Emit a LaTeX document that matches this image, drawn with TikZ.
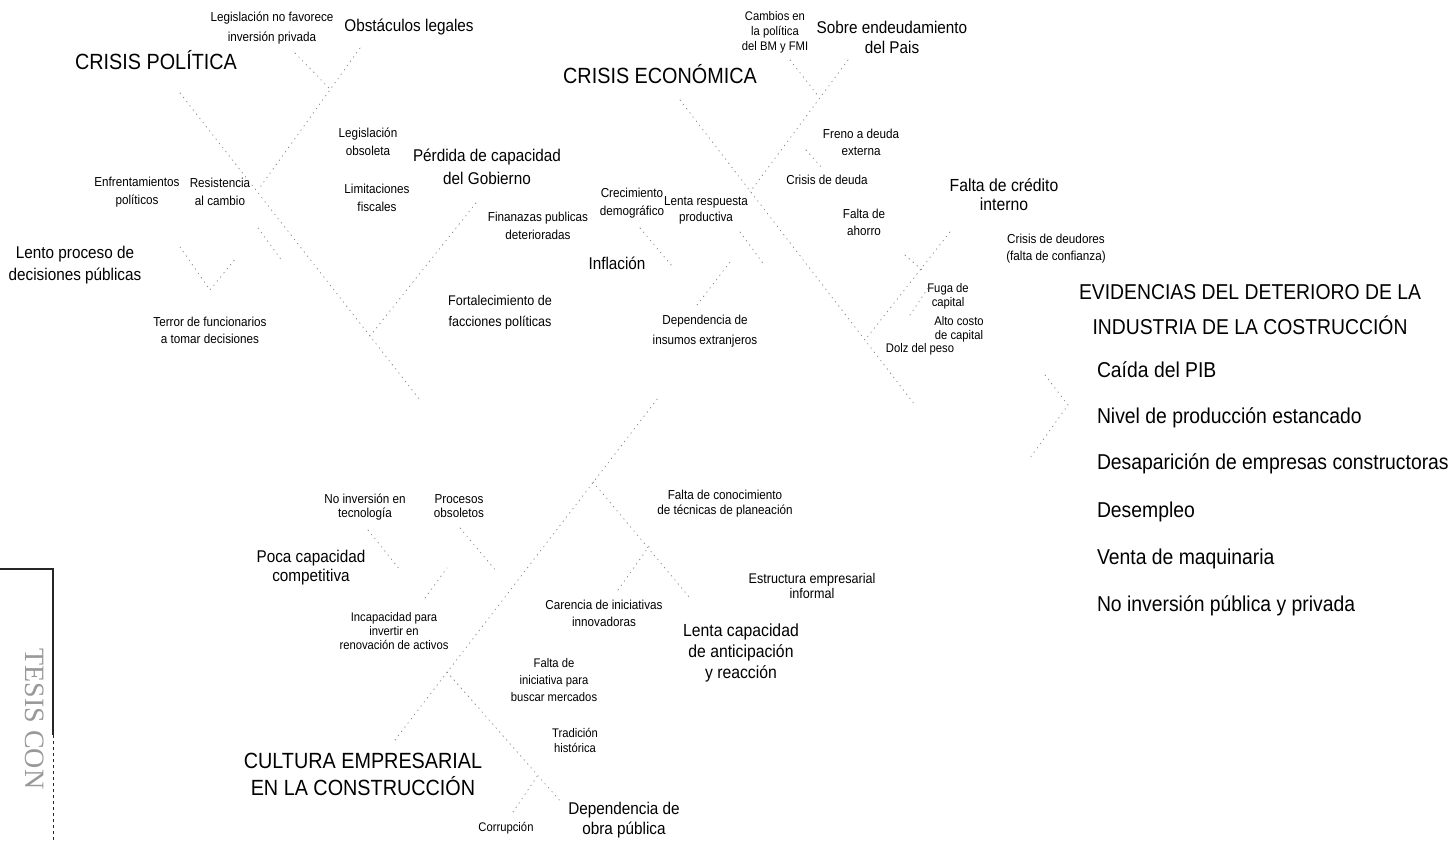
\documentclass[tikz,border=0pt]{standalone}
\usepackage{fontspec}
\setmainfont{Liberation Sans}[FakeStretch=0.9]
\newfontfamily\stampfont{Liberation Serif}
\newcommand{\myfs}[2]{\fontsize{#1}{#2}\selectfont}
\begin{document}
\begin{tikzpicture}[x=1pt,y=-1pt,
  lbl/.style={inner sep=0pt, outer sep=0pt, align=center, text=black},
  bone/.style={draw=black!45, line width=0.8pt, dash pattern=on 0.8pt off 4.5pt, line cap=round},
  stampline/.style={draw=black!85, line width=1.4pt}]
\useasboundingbox[fill=white] (0,0) rectangle (1455,840);

% ---------- labels: Crisis politica ----------
\node[lbl, font=\myfs{13}{20}] (legnf) at (272,28) {Legislación no favorece\\inversión privada};
\node[lbl, font=\myfs{17}{21}] (obst) at (409,27) {Obstáculos legales};
\node[lbl, font=\myfs{22}{27}] (cpol) at (156,60) {CRISIS POLÍTICA};
\node[lbl, font=\myfs{13}{18}] (legob) at (368,142) {Legislación\\obsoleta};
\node[lbl, font=\myfs{17}{23}] (perd) at (487,167) {Pérdida de capacidad\\del Gobierno};
\node[lbl, font=\myfs{13}{18}] (enfr) at (137,192) {Enfrentamientos\\políticos};
\node[lbl, font=\myfs{13}{18}] (resis) at (220,192) {Resistencia\\al cambio};
\node[lbl, font=\myfs{13}{18}] (limit) at (377,198) {Limitaciones\\fiscales};
\node[lbl, font=\myfs{13}{18}] (finan) at (538,226) {Finanazas publicas\\deterioradas};
\node[lbl, font=\myfs{17}{22}] (lento) at (75,265) {Lento proceso de\\decisiones públicas};
\node[lbl, font=\myfs{13}{17}] (terror) at (210,330) {Terror de funcionarios\\a tomar decisiones};
\node[lbl, font=\myfs{14}{21}] (fort) at (500,312) {Fortalecimiento de\\facciones políticas};

% ---------- labels: Crisis economica ----------
\node[lbl, font=\myfs{22}{27}] (ceco) at (660,74) {CRISIS ECONÓMICA};
\node[lbl, font=\myfs{12.5}{15}] (camb) at (775,32) {Cambios en\\la política\\del BM y FMI};
\node[lbl, font=\myfs{17}{20}] (sobre) at (892,37) {Sobre endeudamiento\\del Pais};
\node[lbl, font=\myfs{13}{17}] (freno) at (861,142) {Freno a deuda\\externa};
\node[lbl, font=\myfs{13}{16}] (crdeu) at (827,180) {Crisis de deuda};
\node[lbl, font=\myfs{13}{18}] (crec) at (632,203) {Crecimiento\\demográfico};
\node[lbl, font=\myfs{13}{16}] (lresp) at (706,210) {Lenta respuesta\\productiva};
\node[lbl, font=\myfs{13}{17}] (ahorro) at (864,222) {Falta de\\ahorro};
\node[lbl, font=\myfs{17}{20}] (infl) at (617,263) {Inflación};
\node[lbl, font=\myfs{13}{20}] (depins) at (705,331) {Dependencia de\\insumos extranjeros};
\node[lbl, font=\myfs{17.5}{19}] (credito) at (1004,195) {Falta de crédito\\interno};
\node[lbl, font=\myfs{13}{17}] (deudores) at (1056,249) {Crisis de deudores\\(falta de confianza)};
\node[lbl, font=\myfs{12.5}{14}] (fuga) at (948,296) {Fuga de\\capital};
\node[lbl, font=\myfs{12.5}{14}] (alto) at (959,329) {Alto costo\\de capital};
\node[lbl, font=\myfs{12.5}{14}] (dolz) at (920,349) {Dolz del peso};

% ---------- labels: evidencias ----------
\node[lbl, font=\myfs{21.5}{35}] (evid) at (1250,310) {EVIDENCIAS DEL DETERIORO DE LA\\INDUSTRIA DE LA COSTRUCCIÓN};
\node[lbl, anchor=west, font=\myfs{21.5}{25}] (ev1) at (1097,370) {Caída del PIB};
\node[lbl, anchor=west, font=\myfs{21.5}{25}] (ev2) at (1097,418) {Nivel de producción estancado};
\node[lbl, anchor=west, font=\myfs{21.5}{25}] (ev3) at (1097,464) {Desaparición de empresas constructoras};
\node[lbl, anchor=west, font=\myfs{21.5}{25}] (ev4) at (1097,512) {Desempleo};
\node[lbl, anchor=west, font=\myfs{21.5}{25}] (ev5) at (1097,559) {Venta de maquinaria};
\node[lbl, anchor=west, font=\myfs{21.5}{25}] (ev6) at (1097,606) {No inversión pública y privada};

% ---------- labels: cultura empresarial ----------
\node[lbl, font=\myfs{13}{13.5}] (noinv) at (365,507) {No inversión en\\tecnología};
\node[lbl, font=\myfs{13}{13.5}] (proc) at (459,506) {Procesos\\obsoletos};
\node[lbl, font=\myfs{17}{19}] (poca) at (311,568) {Poca capacidad\\competitiva};
\node[lbl, font=\myfs{13}{15}] (falcon) at (725,504) {Falta de conocimiento\\de técnicas de planeación};
\node[lbl, font=\myfs{14}{15}] (estr) at (812,586) {Estructura empresarial\\informal};
\node[lbl, font=\myfs{12.5}{14}] (incap) at (394,631) {Incapacidad para\\invertir en\\renovación de activos};
\node[lbl, font=\myfs{13}{17}] (caren) at (604,613) {Carencia de iniciativas\\innovadoras};
\node[lbl, font=\myfs{17.5}{21}] (lcap) at (741,653) {Lenta capacidad\\de anticipación\\y reacción};
\node[lbl, font=\myfs{12.5}{17}] (fini) at (554,680) {Falta de\\iniciativa para\\buscar mercados};
\node[lbl, font=\myfs{12.5}{15}] (trad) at (575,740) {Tradición\\histórica};
\node[lbl, font=\myfs{22}{27}] (cult) at (363,774) {CULTURA EMPRESARIAL\\EN LA CONSTRUCCIÓN};
\node[lbl, font=\myfs{12.5}{15}] (corr) at (506,828) {Corrupción};
\node[lbl, font=\myfs{17}{20}] (depob) at (624,820) {Dependencia de\\obra pública};

% ---------- stamp ----------
\node[rotate=-90, inner sep=0pt, text=black!40, font=\stampfont\myfs{28}{28}] (stamp) at (35,719) {TESIS CON};
\coordinate (s1) at (0,569);
\coordinate (s2) at (53,569);
\coordinate (s3) at (53,735);
\coordinate (s4) at (53,840);
\draw[stampline] (s1) -- (s2) -- (s3);
\draw[stampline, dashed, line width=1pt] (s3) -- (s4);

% ---------- bones: politica ----------
\coordinate (pA1) at (180,93);   \coordinate (pA2) at (420,400);
\coordinate (pOb1) at (360,48);  \coordinate (pOb2) at (258,190);
\coordinate (pLn1) at (295,53);  \coordinate (pLn2) at (329,88);
\coordinate (pLe1) at (180,247); \coordinate (pLe2) at (210,290);
\coordinate (pTe2) at (236,258);
\coordinate (pRe1) at (258,228); \coordinate (pRe2) at (283,262);
\coordinate (pPe1) at (476,203); \coordinate (pPe2) at (370,336);
\draw[bone] (pA1) -- (pA2);
\draw[bone] (pOb1) -- (pOb2);
\draw[bone] (pLn1) -- (pLn2);
\draw[bone] (pLe1) -- (pLe2) -- (pTe2);
\draw[bone] (pRe1) -- (pRe2);
\draw[bone] (pPe1) -- (pPe2);

% ---------- bones: economica ----------
\coordinate (eB1) at (680,100);  \coordinate (eB2) at (915,405);
\coordinate (eSo1) at (848,60);  \coordinate (eSo2) at (750,192);
\coordinate (eCa1) at (790,60);  \coordinate (eCa2) at (819,97);
\coordinate (eFr1) at (806,150); \coordinate (eFr2) at (822,168);
\coordinate (eIn1) at (640,228); \coordinate (eIn2) at (672,266);
\coordinate (eDe1) at (697,305); \coordinate (eDe2) at (730,262);
\coordinate (eLr1) at (740,232); \coordinate (eLr2) at (765,266);
\coordinate (eFc1) at (950,232); \coordinate (eFc2) at (865,340);
\coordinate (eFa1) at (905,255); \coordinate (eFa2) at (922,270);
\coordinate (eFu1) at (928,288); \coordinate (eFu2) at (908,318);
\draw[bone] (eB1) -- (eB2);
\draw[bone] (eSo1) -- (eSo2);
\draw[bone] (eCa1) -- (eCa2);
\draw[bone] (eFr1) -- (eFr2);
\draw[bone] (eIn1) -- (eIn2);
\draw[bone] (eDe1) -- (eDe2);
\draw[bone] (eLr1) -- (eLr2);
\draw[bone] (eFc1) -- (eFc2);
\draw[bone] (eFa1) -- (eFa2);
\draw[bone] (eFu1) -- (eFu2);

% ---------- head ----------
\coordinate (h1) at (1045,375); \coordinate (h2) at (1068,405); \coordinate (h3) at (1030,458);
\draw[bone] (h1) -- (h2) -- (h3);

% ---------- bones: cultura ----------
\coordinate (cC1) at (395,740);  \coordinate (cC2) at (658,398);
\coordinate (cNi1) at (368,530); \coordinate (cNi2) at (400,570);
\coordinate (cPr1) at (460,528); \coordinate (cPr2) at (497,572);
\coordinate (cIc1) at (425,598); \coordinate (cIc2) at (447,568);
\coordinate (cLc1) at (593,482); \coordinate (cLc2) at (690,598);
\coordinate (cCa1) at (618,590); \coordinate (cCa2) at (650,545);
\coordinate (cDo1) at (447,672); \coordinate (cDo2) at (562,803);
\coordinate (cCo1) at (513,812); \coordinate (cCo2) at (538,775);
\draw[bone] (cC1) -- (cC2);
\draw[bone] (cNi1) -- (cNi2);
\draw[bone] (cPr1) -- (cPr2);
\draw[bone] (cIc1) -- (cIc2);
\draw[bone] (cLc1) -- (cLc2);
\draw[bone] (cCa1) -- (cCa2);
\draw[bone] (cDo1) -- (cDo2);
\draw[bone] (cCo1) -- (cCo2);
\end{tikzpicture}
\end{document}
